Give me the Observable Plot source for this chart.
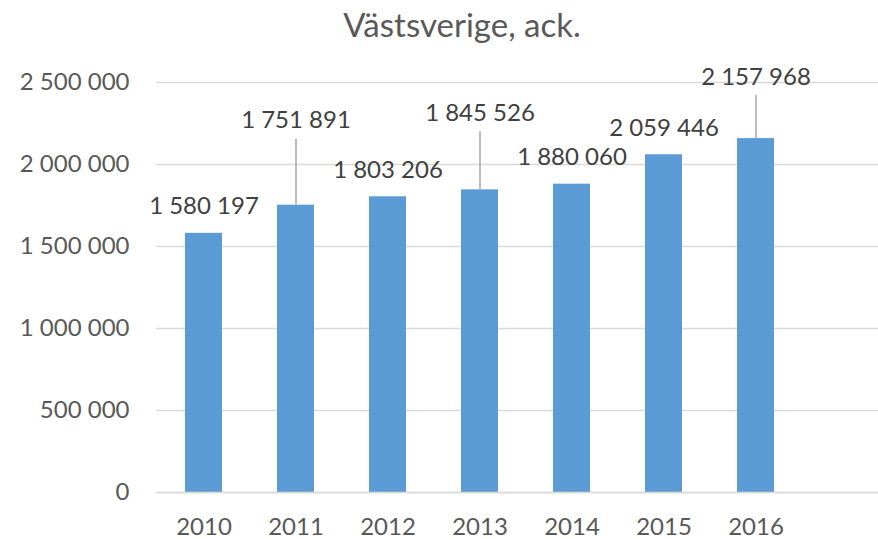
<!DOCTYPE html>
<html>
<head>
<meta charset="utf-8">
<script src="https://cdn.jsdelivr.net/npm/d3@7"></script>
<script src="https://cdn.jsdelivr.net/npm/@observablehq/plot@0.6"></script>
<style>
  html, body { margin: 0; padding: 0; background: #fff; }
  #title { width: 878px; height: 46px; box-sizing: border-box; padding-left: 46px; text-align: center;
           font-family: Lato, "Open Sans", sans-serif; font-size: 33px; line-height: 48px; color: #595959;
           overflow: visible; white-space: nowrap; }
  svg { display: block; }
</style>
</head>
<body>
<div id="title">Västsverige, ack.</div>
<div id="chart"></div>
<script>
const years = ["2010", "2011", "2012", "2013", "2014", "2015", "2016"];
const values = [1580197, 1751891, 1803206, 1845526, 1880060, 2059446, 2157968];
const yTicks = [0, 500000, 1000000, 1500000, 2000000, 2500000];
// labels that were moved up with a leader line (lift above bar top, px)
const labelLift = [19, 77, 19, 69, 19, 19, 54];
const hasLeader = [false, true, false, true, false, false, true];

const fmt = v => d3.format(",")(v).replace(/,/g, " ");
const data = years.map((y, i) => ({year: y, value: values[i], lift: labelLift[i], leader: hasLeader[i]}));

const W = 878, H = 493, mTop = 36, mBottom = 47;
const plotH = H - mTop - mBottom;
const unitPerPx = 2500000 / plotH;

const chart = Plot.plot({
  width: W,
  height: H,
  marginTop: mTop,
  marginBottom: mBottom,
  marginLeft: 156,
  marginRight: 0,
  style: {fontFamily: "Lato, 'Open Sans', sans-serif", fontSize: "24px", color: "#595959", background: "#fff", overflow: "visible"},
  x: {domain: years, range: [156, 156 + 7 * 92.3], padding: 0.6, paddingOuter: 0.3, label: null},
  y: {domain: [0, 2500000], label: null},
  marks: [
    Plot.ruleY(yTicks, {stroke: "#d9d9d9", strokeWidth: 1.5}),
    Plot.barY(data, {x: "year", y: "value", fill: "#5B9BD5"}),
    Plot.ruleX(data.filter(d => d.leader), {
      x: "year",
      y1: "value",
      y2: d => d.value + (d.lift - 11) * unitPerPx,
      stroke: "#a6a6a6", strokeWidth: 1.5
    }),
    Plot.text(data, {
      x: "year",
      y: d => d.value + d.lift * unitPerPx,
      text: d => fmt(d.value),
      lineAnchor: "bottom", fill: "#404040", fontSize: 24
    }),
    Plot.axisY({ticks: yTicks, tickFormat: fmt, tickSize: 0, tickPadding: 27, fill: "#595959", fontSize: 24}),
    Plot.axisX({tickSize: 0, tickPadding: 25, fill: "#595959", fontSize: 24}),
    Plot.ruleY([0], {stroke: "#d9d9d9", strokeWidth: 1.5})
  ]
});
document.getElementById("chart").appendChild(chart);
</script>
</body>
</html>
